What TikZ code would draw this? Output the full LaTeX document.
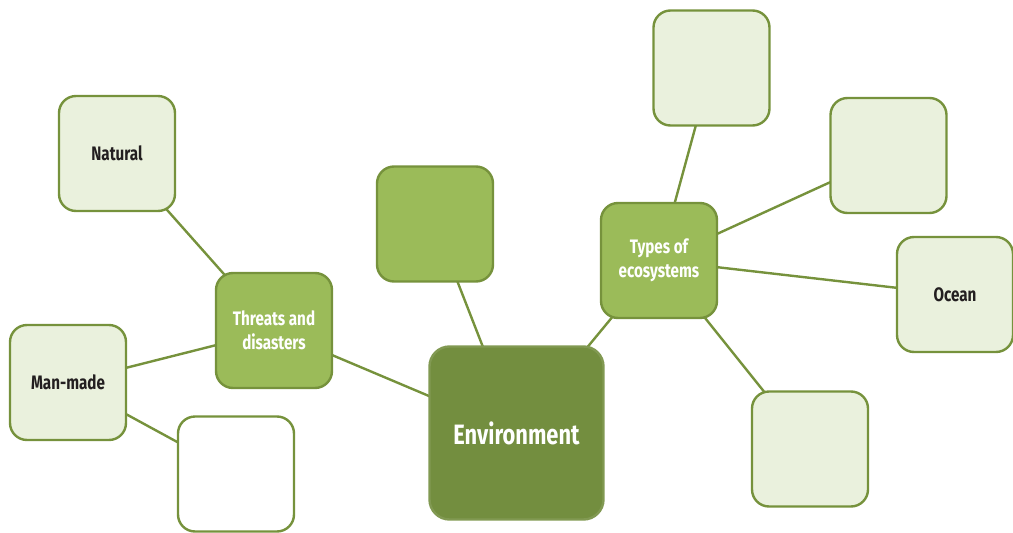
\documentclass[tikz,border=0pt]{standalone}
\usepackage{fontspec}
\setmainfont{Fira Sans}[FakeStretch=0.78]
\usetikzlibrary{backgrounds}
\definecolor{lightg}{HTML}{EAF1DD}
\definecolor{midg}{HTML}{9BBB59}
\definecolor{darkg}{HTML}{738E3F}
\definecolor{edgeg}{HTML}{76923C}
\definecolor{txt}{HTML}{231F20}
\tikzset{
  box/.style={draw=edgeg, line width=2.4pt, rounded corners=17pt, minimum width=116pt, minimum height=115pt, inner sep=0pt, align=center, font=\bfseries\fontsize{19.5}{24.5}\selectfont},
  lightbox/.style={box, fill=lightg, text=txt},
  midbox/.style={box, fill=midg, text=white},
  whitebox/.style={box, fill=white},
  envbox/.style={box, fill=darkg, draw=darkg!90!white, minimum width=174pt, minimum height=173pt, rounded corners=20pt, text=white, font=\bfseries\fontsize{28}{32}\selectfont},
  link/.style={draw=edgeg, line width=2.4pt}
}
\begin{document}
\begin{tikzpicture}[x=1pt,y=-1pt]
\useasboundingbox (0,0) rectangle (1013,533);
\node[lightbox] (natural) at (117,153.5) {Natural};
\node[lightbox] (manmade) at (68,382.5) {Man-made};
\node[whitebox] (blank) at (236,474) {};
\node[midbox] (threats) at (274,330.5) {Threats and\\disasters};
\node[midbox] (topmid) at (435,224) {};
\node[envbox] (env) at (516.5,433) {Environment};
\node[midbox] (types) at (659,260.5) {Types of\\ecosystems};
\node[lightbox] (topr) at (711.5,68) {};
\node[lightbox] (rtop) at (888.5,155.5) {};
\node[lightbox] (ocean) at (955,294.5) {Ocean};
\node[lightbox] (brt) at (810,449) {};
\begin{scope}[on background layer]
\draw[link] (natural.center) -- (threats.center);
\draw[link] (manmade.center) -- (threats.center);
\draw[link] (manmade.center) -- (blank.center);
\draw[link] (threats.center) -- (env.center);
\draw[link] (topmid.center) -- (env.center);
\draw[link] (env.center) -- (types.center);
\draw[link] (types.center) -- (topr.center);
\draw[link] (types.center) -- (rtop.center);
\draw[link] (types.center) -- (ocean.center);
\draw[link] (types.center) -- (brt.center);
\end{scope}
\end{tikzpicture}
\end{document}
